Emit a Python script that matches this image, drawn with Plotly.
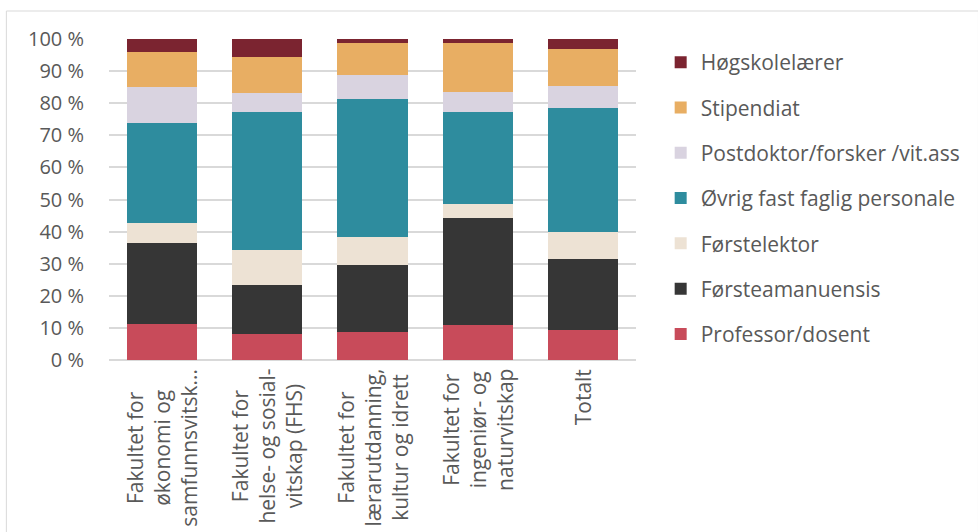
import plotly.graph_objects as go

# Categories (faculties) and their multi-line axis labels
categories = ["OKS", "FHS", "LKI", "FIN", "Totalt"]
category_labels = [
    "Fakultet for<br>økonomi og<br>samfunnsvitsk...",
    "Fakultet for<br>helse- og sosial-<br>vitskap (FHS)",
    "Fakultet for<br>lærarutdanning,<br>kultur og idrett",
    "Fakultet for<br>ingeniør- og<br>naturvitskap",
    "Totalt",
]

# Share of staff per position (percent), bottom to top of each stack
professor = [11.1, 8.0, 8.8, 10.9, 9.3]
forsteamanuensis = [25.2, 15.3, 20.9, 33.2, 22.3]
forstelektor = [6.5, 11.0, 8.6, 4.4, 8.2]
ovrig_fast = [30.9, 43.0, 43.1, 28.8, 38.8]
postdoktor = [11.2, 6.0, 7.4, 6.1, 6.9]
stipendiat = [11.2, 11.0, 9.9, 15.3, 11.5]
hogskolelaerer = [3.9, 5.7, 1.3, 1.3, 3.0]

series_names = [
    "Professor/dosent",
    "Førsteamanuensis",
    "Førstelektor",
    "Øvrig fast faglig personale",
    "Postdoktor/forsker /vit.ass",
    "Stipendiat",
    "Høgskolelærer",
]
series_values = [professor, forsteamanuensis, forstelektor, ovrig_fast,
                 postdoktor, stipendiat, hogskolelaerer]
series_colors = ["#C84B5A", "#363636", "#EDE2D4", "#2E8C9E",
                 "#D9D3E0", "#E8AE63", "#7B2430"]

W, H = 978, 532
ML, MR, MT, MB = 109, 335, 39, 172
FONT = "Open Sans"
TEXT = "#595959"
GRID = "#D9D9D9"

fig = go.Figure()
n = len(series_names)
for i, (name, vals, col) in enumerate(zip(series_names, series_values, series_colors)):
    # legend lists the top segment first
    fig.add_trace(go.Bar(
        x=categories, y=vals, name=name, legendgroup=name,
        legendrank=1000 + (n - i),
        marker=dict(color=col, line=dict(width=0)),
    ))

# Rotated, centre-aligned category labels below the axis
for cat, lab in zip(categories, category_labels):
    fig.add_annotation(
        x=cat, xref="x", y=0, yref="paper", yanchor="top", xanchor="center",
        yshift=-7, text=lab, textangle=-90, align="center", showarrow=False,
        font=dict(family=FONT, size=21, color=TEXT),
    )

# Outer chart frame
pw, ph = W - ML - MR, H - MT - MB
def px_x(p):
    return (p - ML) / pw
def px_y(p):
    return (H - MB - p) / ph
fig.add_shape(type="rect", xref="paper", yref="paper",
              x0=px_x(5), x1=px_x(990), y0=px_y(545), y1=px_y(11),
              line=dict(color=GRID, width=1), fillcolor="rgba(0,0,0,0)", layer="below")

fig.update_layout(
    width=W, height=H,
    margin=dict(l=ML, r=MR, t=MT, b=MB),
    paper_bgcolor="white", plot_bgcolor="white",
    barmode="stack", bargap=0.333,
    font=dict(family=FONT, size=20, color=TEXT),
    showlegend=True,
    legend=dict(
        x=px_x(668), xanchor="left", y=px_y(42), yanchor="top",
        traceorder="grouped", tracegroupgap=15,
        font=dict(family=FONT, size=21, color=TEXT),
        bgcolor="rgba(0,0,0,0)",
    ),
    xaxis=dict(showticklabels=False, showgrid=False, zeroline=False,
               showline=False, ticks=""),
    yaxis=dict(
        range=[0, 100], dtick=10, ticksuffix=" %",
        showgrid=True, gridcolor=GRID, gridwidth=1.5,
        zeroline=True, zerolinecolor=GRID, zerolinewidth=1.5,
        showline=False, ticks="outside", ticklen=20, tickcolor="rgba(0,0,0,0)",
        tickfont=dict(family=FONT, size=20, color=TEXT),
    ),
)

fig.write_html("out.html")
